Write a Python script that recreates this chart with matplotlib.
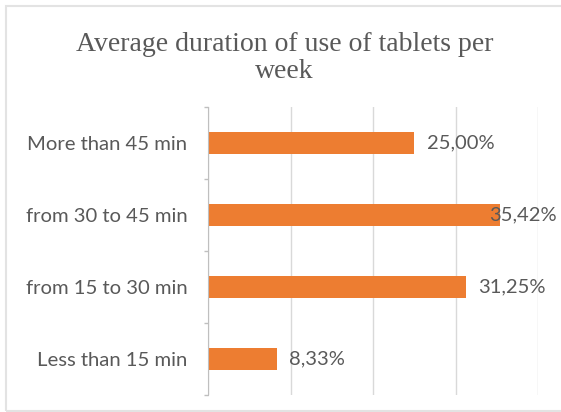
import matplotlib
matplotlib.use("Agg")
import matplotlib.pyplot as plt
from matplotlib.patches import Rectangle
from matplotlib.ticker import MultipleLocator, FixedLocator

# Share of respondents by weekly tablet use (bottom to top)
categories = ["Less than 15 min", "from 15 to 30 min", "from 30 to 45 min", "More than 45 min"]
shares = [8.33, 31.25, 35.42, 25.00]

bar_color = "#ED7D31"
text_color = "#595959"

fig = plt.figure(figsize=(5.61, 4.12), dpi=100)
ax = fig.add_axes([0.371, 0.041, 0.588, 0.699])

pos = list(range(len(categories)))
ax.barh(pos, shares, height=0.31, color=bar_color, zorder=3)

ax.set_xlim(0, 40)
ax.set_ylim(-0.5, len(categories) - 0.5)
ax.xaxis.set_major_locator(MultipleLocator(10))
ax.grid(axis="x", color="#D9D9D9", linewidth=1.0, zorder=0)
ax.tick_params(axis="x", length=0, labelbottom=False)

ax.set_yticks(pos)
ax.set_yticklabels(categories, fontsize=14.6, color=text_color, family="Lato")
ax.tick_params(axis="y", length=0, pad=15)
ax.yaxis.set_minor_locator(FixedLocator([p - 0.5 for p in pos] + [pos[-1] + 0.5]))
ax.tick_params(axis="y", which="minor", length=3, color="#BFBFBF", width=1)

for s in ["top", "right", "bottom"]:
    ax.spines[s].set_visible(False)
ax.spines["left"].set_color("#BFBFBF")
ax.spines["left"].set_zorder(4)

# value labels just past the bar end, pulled back inside the chart if they overflow
fig.canvas.draw()
renderer = fig.canvas.get_renderer()
right_limit = 557
for p, v in zip(pos, shares):
    label = f"{v:.2f}%".replace(".", ",")
    t = ax.annotate(label, (v, p), xytext=(9, 0), textcoords="offset points",
                    va="center", ha="left", fontsize=14.5, color=text_color,
                    family="Lato", zorder=5)
    bb = t.get_window_extent(renderer)
    if bb.x1 > right_limit:
        shift = (bb.x1 - right_limit) * 72 / fig.dpi
        t.set_position((9 - shift, 0))

fig.text(0.507, 0.859, "Average duration of use of tablets per\nweek",
         ha="center", va="center", fontsize=20, color=text_color,
         family="Liberation Serif", linespacing=1.1)

# thin outline round the chart area
fig.patches.append(Rectangle((6 / 561, 1 / 412), 1.0, 1 - 7 / 412,
                             transform=fig.transFigure, fill=False,
                             edgecolor="#E3E3E3", linewidth=1.5))

fig.savefig("out.png", dpi=100)
